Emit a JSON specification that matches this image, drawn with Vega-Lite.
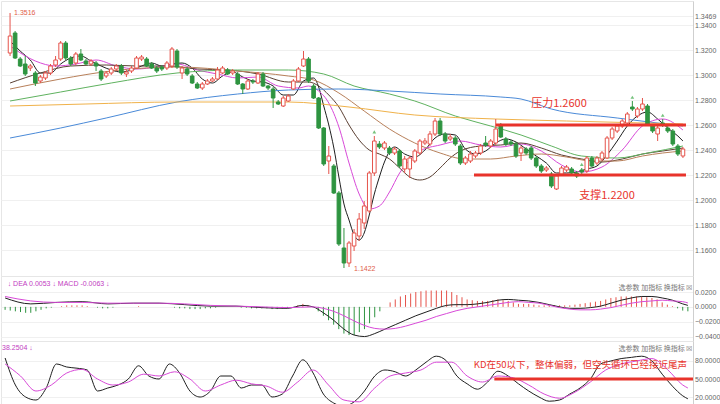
{
"$schema":"https://vega.github.io/schema/vega-lite/v6.json",
"padding":0,"background":"white","spacing":0,"bounds":"flush",
"resolve":{"scale":{"color":"independent"}},
"config":{"view":{"stroke":"#e6e6e6"},"font":"Liberation Sans",
"axis":{"labelFontSize":7,"labelColor":"#666","domainColor":"#cfcfcf","ticks":false,"labelPadding":1.5,"labelOverlap":false,"tickCount":30,"gridColor":"#f0f0f0","title":null}},
"datasets":{
"k":[
{"i":0,"o":1.3176,"h":1.3496,"l":1.3152,"c":1.3312,"m":-0.004},
{"i":1,"o":1.3336,"h":1.3352,"l":1.3128,"c":1.3136,"m":-0.005},
{"i":2,"o":1.3128,"h":1.3144,"l":1.3064,"c":1.3072,"m":-0.006},
{"i":3,"o":1.3088,"h":1.3152,"l":1.2992,"c":1.3008,"m":-0.007},
{"i":4,"o":1.3056,"h":1.3088,"l":1.3032,"c":1.3072,"m":-0.008},
{"i":5,"o":1.3016,"h":1.3032,"l":1.2912,"c":1.2936,"m":-0.008},
{"i":6,"o":1.2952,"h":1.3000,"l":1.2936,"c":1.2984,"m":-0.006},
{"i":7,"o":1.2976,"h":1.3032,"l":1.2960,"c":1.3016,"m":-0.004},
{"i":8,"o":1.3016,"h":1.3088,"l":1.3000,"c":1.3072,"m":-0.002},
{"i":9,"o":1.3080,"h":1.3152,"l":1.3064,"c":1.3120,"m":-0.001},
{"i":10,"o":1.3128,"h":1.3272,"l":1.3112,"c":1.3256,"m":0},
{"i":11,"o":1.3256,"h":1.3272,"l":1.3120,"c":1.3136,"m":0.001},
{"i":12,"o":1.3136,"h":1.3152,"l":1.3072,"c":1.3088,"m":0.002},
{"i":13,"o":1.3096,"h":1.3184,"l":1.3080,"c":1.3168,"m":0.002},
{"i":14,"o":1.3168,"h":1.3208,"l":1.3112,"c":1.3120,"m":0.002},
{"i":15,"o":1.3112,"h":1.3128,"l":1.3080,"c":1.3088,"m":0.002},
{"i":16,"o":1.3088,"h":1.3128,"l":1.3072,"c":1.3112,"m":0.001},
{"i":17,"o":1.3096,"h":1.3112,"l":1.3032,"c":1.3072,"m":0},
{"i":18,"o":1.3032,"h":1.3048,"l":1.2952,"c":1.2968,"m":-0.001},
{"i":19,"o":1.2992,"h":1.3032,"l":1.2976,"c":1.3016,"m":-0.002},
{"i":20,"o":1.3016,"h":1.3064,"l":1.3000,"c":1.3048,"m":-0.002},
{"i":21,"o":1.3048,"h":1.3088,"l":1.3032,"c":1.3072,"m":-0.001},
{"i":22,"o":1.3072,"h":1.3088,"l":1.3000,"c":1.3016,"m":0},
{"i":23,"o":1.3008,"h":1.3040,"l":1.2984,"c":1.3024,"m":0},
{"i":24,"o":1.3032,"h":1.3072,"l":1.3016,"c":1.3056,"m":0},
{"i":25,"o":1.3056,"h":1.3152,"l":1.3048,"c":1.3136,"m":0},
{"i":26,"o":1.3128,"h":1.3160,"l":1.3112,"c":1.3144,"m":0.001},
{"i":27,"o":1.3128,"h":1.3144,"l":1.3064,"c":1.3072,"m":0},
{"i":28,"o":1.3088,"h":1.3104,"l":1.3048,"c":1.3056,"m":0},
{"i":29,"o":1.3056,"h":1.3072,"l":1.3016,"c":1.3032,"m":0},
{"i":30,"o":1.3064,"h":1.3080,"l":1.3032,"c":1.3048,"m":0},
{"i":31,"o":1.3056,"h":1.3112,"l":1.3040,"c":1.3096,"m":0},
{"i":32,"o":1.3072,"h":1.3224,"l":1.3056,"c":1.3208,"m":0},
{"i":33,"o":1.3192,"h":1.3208,"l":1.3048,"c":1.3064,"m":-0.001},
{"i":34,"o":1.3016,"h":1.3072,"l":1.2968,"c":1.3056,"m":-0.002},
{"i":35,"o":1.3048,"h":1.3064,"l":1.2992,"c":1.3008,"m":-0.002},
{"i":36,"o":1.2992,"h":1.3008,"l":1.2928,"c":1.2936,"m":-0.003},
{"i":37,"o":1.2928,"h":1.2944,"l":1.2888,"c":1.2896,"m":-0.003},
{"i":38,"o":1.2896,"h":1.2944,"l":1.2880,"c":1.2928,"m":-0.003},
{"i":39,"o":1.2928,"h":1.2968,"l":1.2920,"c":1.2952,"m":-0.002},
{"i":40,"o":1.2952,"h":1.2984,"l":1.2944,"c":1.2968,"m":-0.002},
{"i":41,"o":1.2968,"h":1.3064,"l":1.2960,"c":1.3040,"m":-0.001},
{"i":42,"o":1.3016,"h":1.3072,"l":1.3008,"c":1.3056,"m":0},
{"i":43,"o":1.3040,"h":1.3056,"l":1.3000,"c":1.3008,"m":0},
{"i":44,"o":1.3016,"h":1.3048,"l":1.3000,"c":1.3032,"m":0},
{"i":45,"o":1.3008,"h":1.3024,"l":1.2920,"c":1.2928,"m":0},
{"i":46,"o":1.2928,"h":1.2936,"l":1.2848,"c":1.2888,"m":-0.001},
{"i":47,"o":1.2888,"h":1.2968,"l":1.2880,"c":1.2952,"m":-0.001},
{"i":48,"o":1.2952,"h":1.2968,"l":1.2928,"c":1.2944,"m":-0.002},
{"i":49,"o":1.2936,"h":1.3024,"l":1.2928,"c":1.3008,"m":-0.002},
{"i":50,"o":1.3008,"h":1.3024,"l":1.2904,"c":1.2912,"m":-0.002},
{"i":51,"o":1.2912,"h":1.2920,"l":1.2880,"c":1.2896,"m":-0.002},
{"i":52,"o":1.2888,"h":1.2904,"l":1.2736,"c":1.2816,"m":-0.003},
{"i":53,"o":1.2784,"h":1.2800,"l":1.2760,"c":1.2768,"m":-0.003},
{"i":54,"o":1.2752,"h":1.2832,"l":1.2744,"c":1.2816,"m":-0.002},
{"i":55,"o":1.2792,"h":1.2848,"l":1.2784,"c":1.2832,"m":-0.002},
{"i":56,"o":1.2888,"h":1.2968,"l":1.2880,"c":1.2952,"m":0},
{"i":57,"o":1.2952,"h":1.3064,"l":1.2944,"c":1.3048,"m":0.002},
{"i":58,"o":1.3072,"h":1.3192,"l":1.3064,"c":1.3128,"m":0.004},
{"i":59,"o":1.3128,"h":1.3144,"l":1.2936,"c":1.2952,"m":0.002},
{"i":60,"o":1.2912,"h":1.2928,"l":1.2808,"c":1.2816,"m":0},
{"i":61,"o":1.2816,"h":1.2824,"l":1.2568,"c":1.2576,"m":-0.006},
{"i":62,"o":1.2576,"h":1.2584,"l":1.2272,"c":1.2288,"m":-0.012},
{"i":63,"o":1.2312,"h":1.2432,"l":1.2208,"c":1.2352,"m":-0.018},
{"i":64,"o":1.2272,"h":1.2288,"l":1.2048,"c":1.2056,"m":-0.024},
{"i":65,"o":1.2056,"h":1.2072,"l":1.1632,"c":1.1648,"m":-0.030},
{"i":66,"o":1.1616,"h":1.1776,"l":1.1456,"c":1.1496,"m":-0.036},
{"i":67,"o":1.1496,"h":1.1672,"l":1.1464,"c":1.1656,"m":-0.038},
{"i":68,"o":1.1632,"h":1.1768,"l":1.1592,"c":1.1736,"m":-0.038},
{"i":69,"o":1.1712,"h":1.1896,"l":1.1672,"c":1.1848,"m":-0.034},
{"i":70,"o":1.1816,"h":1.1992,"l":1.1768,"c":1.1952,"m":-0.030},
{"i":71,"o":1.1912,"h":1.2232,"l":1.1896,"c":1.2216,"m":-0.022},
{"i":72,"o":1.2216,"h":1.2512,"l":1.2192,"c":1.2472,"m":-0.014},
{"i":73,"o":1.2448,"h":1.2472,"l":1.2408,"c":1.2424,"m":-0.006},
{"i":74,"o":1.2416,"h":1.2472,"l":1.2400,"c":1.2456,"m":0},
{"i":75,"o":1.2416,"h":1.2432,"l":1.2360,"c":1.2376,"m":0.006},
{"i":76,"o":1.2376,"h":1.2424,"l":1.2360,"c":1.2408,"m":0.010},
{"i":77,"o":1.2392,"h":1.2408,"l":1.2256,"c":1.2272,"m":0.014},
{"i":78,"o":1.2248,"h":1.2352,"l":1.2216,"c":1.2328,"m":0.016},
{"i":79,"o":1.2248,"h":1.2352,"l":1.2176,"c":1.2336,"m":0.018},
{"i":80,"o":1.2312,"h":1.2408,"l":1.2296,"c":1.2392,"m":0.020},
{"i":81,"o":1.2376,"h":1.2488,"l":1.2360,"c":1.2472,"m":0.021},
{"i":82,"o":1.2456,"h":1.2496,"l":1.2440,"c":1.2472,"m":0.022},
{"i":83,"o":1.2448,"h":1.2552,"l":1.2432,"c":1.2528,"m":0.022},
{"i":84,"o":1.2528,"h":1.2656,"l":1.2512,"c":1.2632,"m":0.022},
{"i":85,"o":1.2632,"h":1.2656,"l":1.2512,"c":1.2528,"m":0.022},
{"i":86,"o":1.2528,"h":1.2544,"l":1.2456,"c":1.2472,"m":0.022},
{"i":87,"o":1.2488,"h":1.2528,"l":1.2472,"c":1.2504,"m":0.020},
{"i":88,"o":1.2496,"h":1.2512,"l":1.2432,"c":1.2448,"m":0.016},
{"i":89,"o":1.2432,"h":1.2448,"l":1.2280,"c":1.2296,"m":0.013},
{"i":90,"o":1.2296,"h":1.2352,"l":1.2280,"c":1.2336,"m":0.010},
{"i":91,"o":1.2312,"h":1.2392,"l":1.2296,"c":1.2368,"m":0.009},
{"i":92,"o":1.2352,"h":1.2392,"l":1.2336,"c":1.2376,"m":0.008},
{"i":93,"o":1.2376,"h":1.2448,"l":1.2360,"c":1.2432,"m":0.008},
{"i":94,"o":1.2456,"h":1.2512,"l":1.2424,"c":1.2440,"m":0.008},
{"i":95,"o":1.2432,"h":1.2488,"l":1.2416,"c":1.2472,"m":0.009},
{"i":96,"o":1.2456,"h":1.2648,"l":1.2440,"c":1.2568,"m":0.010},
{"i":97,"o":1.2600,"h":1.2616,"l":1.2496,"c":1.2504,"m":0.009},
{"i":98,"o":1.2488,"h":1.2504,"l":1.2432,"c":1.2448,"m":0.008},
{"i":99,"o":1.2464,"h":1.2480,"l":1.2432,"c":1.2448,"m":0.006},
{"i":100,"o":1.2448,"h":1.2464,"l":1.2336,"c":1.2352,"m":0.004},
{"i":101,"o":1.2376,"h":1.2432,"l":1.2312,"c":1.2416,"m":0.004},
{"i":102,"o":1.2408,"h":1.2424,"l":1.2360,"c":1.2376,"m":0.004},
{"i":103,"o":1.2416,"h":1.2432,"l":1.2320,"c":1.2336,"m":0.003},
{"i":104,"o":1.2336,"h":1.2352,"l":1.2256,"c":1.2272,"m":0.002},
{"i":105,"o":1.2272,"h":1.2288,"l":1.2216,"c":1.2232,"m":0.002},
{"i":106,"o":1.2240,"h":1.2272,"l":1.2224,"c":1.2256,"m":0.002},
{"i":107,"o":1.2208,"h":1.2224,"l":1.2096,"c":1.2112,"m":0.002},
{"i":108,"o":1.2088,"h":1.2208,"l":1.2080,"c":1.2192,"m":0.002},
{"i":109,"o":1.2208,"h":1.2272,"l":1.2192,"c":1.2256,"m":0.002},
{"i":110,"o":1.2240,"h":1.2280,"l":1.2224,"c":1.2264,"m":0.002},
{"i":111,"o":1.2248,"h":1.2264,"l":1.2200,"c":1.2216,"m":0.003},
{"i":112,"o":1.2216,"h":1.2232,"l":1.2176,"c":1.2192,"m":0.004},
{"i":113,"o":1.2240,"h":1.2256,"l":1.2208,"c":1.2224,"m":0.005},
{"i":114,"o":1.2232,"h":1.2352,"l":1.2216,"c":1.2336,"m":0.006},
{"i":115,"o":1.2336,"h":1.2352,"l":1.2264,"c":1.2272,"m":0.007},
{"i":116,"o":1.2296,"h":1.2352,"l":1.2280,"c":1.2336,"m":0.008},
{"i":117,"o":1.2328,"h":1.2392,"l":1.2312,"c":1.2376,"m":0.010},
{"i":118,"o":1.2336,"h":1.2512,"l":1.2328,"c":1.2496,"m":0.012},
{"i":119,"o":1.2496,"h":1.2584,"l":1.2480,"c":1.2568,"m":0.013},
{"i":120,"o":1.2552,"h":1.2608,"l":1.2536,"c":1.2592,"m":0.014},
{"i":121,"o":1.2592,"h":1.2648,"l":1.2576,"c":1.2632,"m":0.014},
{"i":122,"o":1.2616,"h":1.2704,"l":1.2600,"c":1.2688,"m":0.014},
{"i":123,"o":1.2744,"h":1.2792,"l":1.2712,"c":1.2728,"m":0.014},
{"i":124,"o":1.2672,"h":1.2744,"l":1.2656,"c":1.2728,"m":0.014},
{"i":125,"o":1.2728,"h":1.2816,"l":1.2712,"c":1.2768,"m":0.013},
{"i":126,"o":1.2752,"h":1.2768,"l":1.2592,"c":1.2608,"m":0.012},
{"i":127,"o":1.2592,"h":1.2608,"l":1.2536,"c":1.2552,"m":0.010},
{"i":128,"o":1.2528,"h":1.2592,"l":1.2472,"c":1.2576,"m":0.006},
{"i":129,"o":1.2616,"h":1.2648,"l":1.2584,"c":1.2600,"m":0.003},
{"i":130,"o":1.2576,"h":1.2592,"l":1.2536,"c":1.2552,"m":0.001},
{"i":131,"o":1.2552,"h":1.2568,"l":1.2432,"c":1.2448,"m":-0.002},
{"i":132,"o":1.2432,"h":1.2448,"l":1.2352,"c":1.2368,"m":-0.005},
{"i":133,"o":1.2352,"h":1.2424,"l":1.2336,"c":1.2408,"m":-0.006}
],
"ma":[
{"k":"MA5","i":0,"v":1.3272},{"k":"MA5","i":2,"v":1.3192},{"k":"MA5","i":4,"v":1.3120},{"k":"MA5","i":6,"v":1.3016},{"k":"MA5","i":8,"v":1.3016},{"k":"MA5","i":10,"v":1.3088},{"k":"MA5","i":12,"v":1.3136},{"k":"MA5","i":14,"v":1.3152},{"k":"MA5","i":16,"v":1.3112},{"k":"MA5","i":18,"v":1.3072},{"k":"MA5","i":20,"v":1.3040},{"k":"MA5","i":22,"v":1.3024},{"k":"MA5","i":24,"v":1.3040},{"k":"MA5","i":26,"v":1.3072},{"k":"MA5","i":28,"v":1.3096},{"k":"MA5","i":30,"v":1.3072},{"k":"MA5","i":32,"v":1.3088},{"k":"MA5","i":34,"v":1.3096},{"k":"MA5","i":36,"v":1.3056},{"k":"MA5","i":38,"v":1.2968},{"k":"MA5","i":40,"v":1.2936},{"k":"MA5","i":42,"v":1.2992},{"k":"MA5","i":44,"v":1.3024},{"k":"MA5","i":46,"v":1.2984},{"k":"MA5","i":48,"v":1.2952},{"k":"MA5","i":50,"v":1.2944},{"k":"MA5","i":52,"v":1.2912},{"k":"MA5","i":54,"v":1.2840},{"k":"MA5","i":56,"v":1.2840},{"k":"MA5","i":58,"v":1.2952},{"k":"MA5","i":60,"v":1.2976},{"k":"MA5","i":61,"v":1.2904},{"k":"MA5","i":62,"v":1.2752},{"k":"MA5","i":63,"v":1.2600},{"k":"MA5","i":64,"v":1.2416},{"k":"MA5","i":65,"v":1.2184},{"k":"MA5","i":66,"v":1.1968},{"k":"MA5","i":67,"v":1.1840},{"k":"MA5","i":68,"v":1.1720},{"k":"MA5","i":69,"v":1.1680},{"k":"MA5","i":70,"v":1.1736},{"k":"MA5","i":71,"v":1.1880},{"k":"MA5","i":72,"v":1.2048},{"k":"MA5","i":73,"v":1.2184},{"k":"MA5","i":74,"v":1.2304},{"k":"MA5","i":76,"v":1.2424},{"k":"MA5","i":78,"v":1.2368},{"k":"MA5","i":80,"v":1.2344},{"k":"MA5","i":82,"v":1.2400},{"k":"MA5","i":84,"v":1.2496},{"k":"MA5","i":86,"v":1.2528},{"k":"MA5","i":88,"v":1.2520},{"k":"MA5","i":90,"v":1.2408},{"k":"MA5","i":92,"v":1.2368},{"k":"MA5","i":94,"v":1.2392},{"k":"MA5","i":96,"v":1.2456},{"k":"MA5","i":98,"v":1.2488},{"k":"MA5","i":100,"v":1.2464},{"k":"MA5","i":102,"v":1.2408},{"k":"MA5","i":104,"v":1.2352},{"k":"MA5","i":106,"v":1.2296},{"k":"MA5","i":108,"v":1.2216},{"k":"MA5","i":110,"v":1.2216},{"k":"MA5","i":112,"v":1.2224},{"k":"MA5","i":114,"v":1.2248},{"k":"MA5","i":116,"v":1.2272},{"k":"MA5","i":118,"v":1.2360},{"k":"MA5","i":120,"v":1.2472},{"k":"MA5","i":122,"v":1.2592},{"k":"MA5","i":124,"v":1.2672},{"k":"MA5","i":126,"v":1.2704},{"k":"MA5","i":128,"v":1.2648},{"k":"MA5","i":130,"v":1.2576},{"k":"MA5","i":132,"v":1.2512},{"k":"MA5","i":133,"v":1.2472},
{"k":"MA10","i":0,"v":1.3232},{"k":"MA10","i":5,"v":1.3112},{"k":"MA10","i":9,"v":1.3072},{"k":"MA10","i":13,"v":1.3088},{"k":"MA10","i":17,"v":1.3120},{"k":"MA10","i":21,"v":1.3072},{"k":"MA10","i":25,"v":1.3048},{"k":"MA10","i":29,"v":1.3064},{"k":"MA10","i":33,"v":1.3088},{"k":"MA10","i":37,"v":1.3040},{"k":"MA10","i":41,"v":1.3008},{"k":"MA10","i":45,"v":1.2976},{"k":"MA10","i":49,"v":1.2984},{"k":"MA10","i":53,"v":1.2912},{"k":"MA10","i":57,"v":1.2896},{"k":"MA10","i":59,"v":1.2912},{"k":"MA10","i":61,"v":1.2872},{"k":"MA10","i":63,"v":1.2776},{"k":"MA10","i":65,"v":1.2584},{"k":"MA10","i":67,"v":1.2296},{"k":"MA10","i":69,"v":1.2048},{"k":"MA10","i":71,"v":1.1928},{"k":"MA10","i":73,"v":1.1952},{"k":"MA10","i":75,"v":1.2064},{"k":"MA10","i":77,"v":1.2216},{"k":"MA10","i":79,"v":1.2320},{"k":"MA10","i":81,"v":1.2392},{"k":"MA10","i":85,"v":1.2440},{"k":"MA10","i":89,"v":1.2472},{"k":"MA10","i":93,"v":1.2440},{"k":"MA10","i":97,"v":1.2424},{"k":"MA10","i":101,"v":1.2448},{"k":"MA10","i":105,"v":1.2392},{"k":"MA10","i":109,"v":1.2280},{"k":"MA10","i":113,"v":1.2224},{"k":"MA10","i":117,"v":1.2264},{"k":"MA10","i":121,"v":1.2400},{"k":"MA10","i":125,"v":1.2592},{"k":"MA10","i":129,"v":1.2648},{"k":"MA10","i":133,"v":1.2560},
{"k":"MA20","i":0,"v":1.2936},{"k":"MA20","i":6,"v":1.3016},{"k":"MA20","i":12,"v":1.3072},{"k":"MA20","i":19,"v":1.3080},{"k":"MA20","i":25,"v":1.3072},{"k":"MA20","i":31,"v":1.3072},{"k":"MA20","i":37,"v":1.3048},{"k":"MA20","i":43,"v":1.3040},{"k":"MA20","i":49,"v":1.3008},{"k":"MA20","i":55,"v":1.2944},{"k":"MA20","i":59,"v":1.2944},{"k":"MA20","i":61,"v":1.2912},{"k":"MA20","i":63,"v":1.2840},{"k":"MA20","i":65,"v":1.2744},{"k":"MA20","i":67,"v":1.2600},{"k":"MA20","i":69,"v":1.2480},{"k":"MA20","i":71,"v":1.2400},{"k":"MA20","i":73,"v":1.2368},{"k":"MA20","i":75,"v":1.2328},{"k":"MA20","i":77,"v":1.2256},{"k":"MA20","i":79,"v":1.2184},{"k":"MA20","i":81,"v":1.2160},{"k":"MA20","i":83,"v":1.2184},{"k":"MA20","i":85,"v":1.2256},{"k":"MA20","i":87,"v":1.2336},{"k":"MA20","i":89,"v":1.2392},{"k":"MA20","i":93,"v":1.2432},{"k":"MA20","i":97,"v":1.2440},{"k":"MA20","i":101,"v":1.2456},{"k":"MA20","i":105,"v":1.2416},{"k":"MA20","i":109,"v":1.2360},{"k":"MA20","i":113,"v":1.2328},{"k":"MA20","i":117,"v":1.2304},{"k":"MA20","i":121,"v":1.2328},{"k":"MA20","i":125,"v":1.2368},{"k":"MA20","i":129,"v":1.2392},{"k":"MA20","i":133,"v":1.2416},
{"k":"MA30","i":0,"v":1.2888},{"k":"MA30","i":10,"v":1.2968},{"k":"MA30","i":20,"v":1.3032},{"k":"MA30","i":33,"v":1.3064},{"k":"MA30","i":45,"v":1.3032},{"k":"MA30","i":55,"v":1.2992},{"k":"MA30","i":60,"v":1.2960},{"k":"MA30","i":65,"v":1.2856},{"k":"MA30","i":70,"v":1.2712},{"k":"MA30","i":75,"v":1.2568},{"k":"MA30","i":80,"v":1.2456},{"k":"MA30","i":85,"v":1.2376},{"k":"MA30","i":90,"v":1.2328},{"k":"MA30","i":95,"v":1.2328},{"k":"MA30","i":100,"v":1.2352},{"k":"MA30","i":105,"v":1.2368},{"k":"MA30","i":110,"v":1.2344},{"k":"MA30","i":115,"v":1.2312},{"k":"MA30","i":120,"v":1.2312},{"k":"MA30","i":125,"v":1.2352},{"k":"MA30","i":129,"v":1.2376},{"k":"MA30","i":133,"v":1.2392},
{"k":"MA60","i":0,"v":1.2792},{"k":"MA60","i":10,"v":1.2864},{"k":"MA60","i":20,"v":1.2936},{"k":"MA60","i":33,"v":1.3016},{"k":"MA60","i":45,"v":1.3040},{"k":"MA60","i":55,"v":1.3040},{"k":"MA60","i":62,"v":1.3008},{"k":"MA60","i":68,"v":1.2912},{"k":"MA60","i":75,"v":1.2848},{"k":"MA60","i":80,"v":1.2792},{"k":"MA60","i":88,"v":1.2672},{"k":"MA60","i":95,"v":1.2592},{"k":"MA60","i":101,"v":1.2520},{"k":"MA60","i":107,"v":1.2432},{"k":"MA60","i":113,"v":1.2352},{"k":"MA60","i":120,"v":1.2336},{"k":"MA60","i":126,"v":1.2376},{"k":"MA60","i":133,"v":1.2432},
{"k":"MA120","i":0,"v":1.2496},{"k":"MA120","i":10,"v":1.2576},{"k":"MA120","i":19,"v":1.2656},{"k":"MA120","i":33,"v":1.2784},{"k":"MA120","i":45,"v":1.2848},{"k":"MA120","i":55,"v":1.2880},{"k":"MA120","i":65,"v":1.2888},{"k":"MA120","i":75,"v":1.2872},{"k":"MA120","i":85,"v":1.2848},{"k":"MA120","i":97,"v":1.2824},{"k":"MA120","i":101,"v":1.2808},{"k":"MA120","i":107,"v":1.2728},{"k":"MA120","i":120,"v":1.2656},{"k":"MA120","i":133,"v":1.2592},
{"k":"MA250","i":0,"v":1.2752},{"k":"MA250","i":15,"v":1.2768},{"k":"MA250","i":33,"v":1.2784},{"k":"MA250","i":55,"v":1.2784},{"k":"MA250","i":67,"v":1.2744},{"k":"MA250","i":80,"v":1.2680},{"k":"MA250","i":96,"v":1.2648},{"k":"MA250","i":110,"v":1.2632},{"k":"MA250","i":133,"v":1.2608}
],
"ind":[
{"k":"DIF","i":0,"v":0.012},{"k":"DIF","i":5,"v":0.004},{"k":"DIF","i":10,"v":0.006},{"k":"DIF","i":15,"v":0.007},{"k":"DIF","i":20,"v":0.004},{"k":"DIF","i":25,"v":0.005},{"k":"DIF","i":30,"v":0.005},{"k":"DIF","i":35,"v":0.003},{"k":"DIF","i":40,"v":0.001},{"k":"DIF","i":45,"v":0.001},{"k":"DIF","i":50,"v":-0.001},{"k":"DIF","i":55,"v":-0.002},{"k":"DIF","i":58,"v":0.002},{"k":"DIF","i":60,"v":0.000},{"k":"DIF","i":62,"v":-0.008},{"k":"DIF","i":64,"v":-0.018},{"k":"DIF","i":66,"v":-0.030},{"k":"DIF","i":68,"v":-0.038},{"k":"DIF","i":70,"v":-0.040},{"k":"DIF","i":72,"v":-0.036},{"k":"DIF","i":74,"v":-0.030},{"k":"DIF","i":76,"v":-0.024},{"k":"DIF","i":78,"v":-0.018},{"k":"DIF","i":80,"v":-0.012},{"k":"DIF","i":82,"v":-0.007},{"k":"DIF","i":84,"v":-0.002},{"k":"DIF","i":86,"v":0.002},{"k":"DIF","i":88,"v":0.003},{"k":"DIF","i":90,"v":0.003},{"k":"DIF","i":92,"v":0.004},{"k":"DIF","i":94,"v":0.006},{"k":"DIF","i":96,"v":0.009},{"k":"DIF","i":98,"v":0.010},{"k":"DIF","i":100,"v":0.009},{"k":"DIF","i":102,"v":0.008},{"k":"DIF","i":104,"v":0.006},{"k":"DIF","i":106,"v":0.003},{"k":"DIF","i":108,"v":0.000},{"k":"DIF","i":110,"v":-0.002},{"k":"DIF","i":112,"v":-0.002},{"k":"DIF","i":114,"v":-0.001},{"k":"DIF","i":116,"v":0.001},{"k":"DIF","i":118,"v":0.005},{"k":"DIF","i":120,"v":0.009},{"k":"DIF","i":122,"v":0.012},{"k":"DIF","i":124,"v":0.014},{"k":"DIF","i":126,"v":0.014},{"k":"DIF","i":128,"v":0.012},{"k":"DIF","i":130,"v":0.009},{"k":"DIF","i":132,"v":0.004},{"k":"DIF","i":133,"v":0.002},
{"k":"DEA","i":0,"v":0.014},{"k":"DEA","i":5,"v":0.008},{"k":"DEA","i":10,"v":0.006},{"k":"DEA","i":15,"v":0.006},{"k":"DEA","i":20,"v":0.005},{"k":"DEA","i":25,"v":0.005},{"k":"DEA","i":30,"v":0.005},{"k":"DEA","i":35,"v":0.004},{"k":"DEA","i":40,"v":0.002},{"k":"DEA","i":45,"v":0.001},{"k":"DEA","i":50,"v":0.000},{"k":"DEA","i":55,"v":-0.001},{"k":"DEA","i":60,"v":0.000},{"k":"DEA","i":62,"v":-0.002},{"k":"DEA","i":64,"v":-0.006},{"k":"DEA","i":66,"v":-0.012},{"k":"DEA","i":68,"v":-0.019},{"k":"DEA","i":70,"v":-0.025},{"k":"DEA","i":72,"v":-0.029},{"k":"DEA","i":74,"v":-0.030},{"k":"DEA","i":76,"v":-0.029},{"k":"DEA","i":78,"v":-0.026},{"k":"DEA","i":80,"v":-0.022},{"k":"DEA","i":82,"v":-0.018},{"k":"DEA","i":84,"v":-0.013},{"k":"DEA","i":86,"v":-0.009},{"k":"DEA","i":88,"v":-0.005},{"k":"DEA","i":90,"v":-0.002},{"k":"DEA","i":92,"v":0.000},{"k":"DEA","i":94,"v":0.002},{"k":"DEA","i":96,"v":0.004},{"k":"DEA","i":98,"v":0.006},{"k":"DEA","i":100,"v":0.007},{"k":"DEA","i":102,"v":0.006},{"k":"DEA","i":104,"v":0.005},{"k":"DEA","i":106,"v":0.002},{"k":"DEA","i":108,"v":-0.001},{"k":"DEA","i":110,"v":-0.003},{"k":"DEA","i":112,"v":-0.004},{"k":"DEA","i":114,"v":-0.004},{"k":"DEA","i":116,"v":-0.003},{"k":"DEA","i":118,"v":-0.001},{"k":"DEA","i":120,"v":0.002},{"k":"DEA","i":122,"v":0.005},{"k":"DEA","i":124,"v":0.007},{"k":"DEA","i":126,"v":0.008},{"k":"DEA","i":128,"v":0.009},{"k":"DEA","i":130,"v":0.008},{"k":"DEA","i":132,"v":0.007},{"k":"DEA","i":133,"v":0.0053},
{"k":"K","i":0,"v":85},{"k":"K","i":2,"v":40},{"k":"K","i":4,"v":20},{"k":"K","i":6,"v":15},{"k":"K","i":8,"v":35},{"k":"K","i":10,"v":75},{"k":"K","i":12,"v":70},{"k":"K","i":14,"v":68},{"k":"K","i":16,"v":65},{"k":"K","i":18,"v":30},{"k":"K","i":20,"v":35},{"k":"K","i":22,"v":40},{"k":"K","i":24,"v":50},{"k":"K","i":26,"v":72},{"k":"K","i":28,"v":55},{"k":"K","i":30,"v":50},{"k":"K","i":32,"v":75},{"k":"K","i":34,"v":60},{"k":"K","i":36,"v":30},{"k":"K","i":38,"v":20},{"k":"K","i":40,"v":30},{"k":"K","i":42,"v":55},{"k":"K","i":44,"v":55},{"k":"K","i":46,"v":35},{"k":"K","i":48,"v":40},{"k":"K","i":50,"v":40},{"k":"K","i":52,"v":20},{"k":"K","i":54,"v":25},{"k":"K","i":56,"v":55},{"k":"K","i":58,"v":82},{"k":"K","i":60,"v":60},{"k":"K","i":62,"v":25},{"k":"K","i":64,"v":10},{"k":"K","i":66,"v":5},{"k":"K","i":68,"v":12},{"k":"K","i":70,"v":30},{"k":"K","i":72,"v":55},{"k":"K","i":74,"v":65},{"k":"K","i":76,"v":62},{"k":"K","i":78,"v":55},{"k":"K","i":80,"v":65},{"k":"K","i":82,"v":78},{"k":"K","i":84,"v":88},{"k":"K","i":86,"v":80},{"k":"K","i":88,"v":55},{"k":"K","i":90,"v":42},{"k":"K","i":92,"v":33},{"k":"K","i":94,"v":45},{"k":"K","i":96,"v":63},{"k":"K","i":98,"v":55},{"k":"K","i":100,"v":42},{"k":"K","i":102,"v":30},{"k":"K","i":104,"v":20},{"k":"K","i":106,"v":13},{"k":"K","i":108,"v":15},{"k":"K","i":110,"v":25},{"k":"K","i":112,"v":35},{"k":"K","i":114,"v":50},{"k":"K","i":116,"v":75},{"k":"K","i":118,"v":80},{"k":"K","i":120,"v":84},{"k":"K","i":122,"v":86},{"k":"K","i":124,"v":88},{"k":"K","i":126,"v":80},{"k":"K","i":128,"v":58},{"k":"K","i":130,"v":38},{"k":"K","i":132,"v":22},{"k":"K","i":133,"v":17},
{"k":"D","i":0,"v":75},{"k":"D","i":3,"v":55},{"k":"D","i":6,"v":30},{"k":"D","i":9,"v":40},{"k":"D","i":12,"v":60},{"k":"D","i":15,"v":66},{"k":"D","i":18,"v":50},{"k":"D","i":21,"v":40},{"k":"D","i":24,"v":45},{"k":"D","i":27,"v":58},{"k":"D","i":30,"v":55},{"k":"D","i":33,"v":62},{"k":"D","i":36,"v":50},{"k":"D","i":39,"v":30},{"k":"D","i":42,"v":40},{"k":"D","i":45,"v":48},{"k":"D","i":48,"v":42},{"k":"D","i":51,"v":38},{"k":"D","i":54,"v":28},{"k":"D","i":57,"v":45},{"k":"D","i":60,"v":65},{"k":"D","i":63,"v":40},{"k":"D","i":66,"v":15},{"k":"D","i":69,"v":12},{"k":"D","i":72,"v":35},{"k":"D","i":75,"v":55},{"k":"D","i":78,"v":60},{"k":"D","i":81,"v":65},{"k":"D","i":84,"v":78},{"k":"D","i":87,"v":78},{"k":"D","i":90,"v":55},{"k":"D","i":93,"v":45},{"k":"D","i":96,"v":55},{"k":"D","i":99,"v":52},{"k":"D","i":102,"v":40},{"k":"D","i":105,"v":25},{"k":"D","i":108,"v":18},{"k":"D","i":111,"v":28},{"k":"D","i":114,"v":45},{"k":"D","i":117,"v":65},{"k":"D","i":120,"v":75},{"k":"D","i":123,"v":80},{"k":"D","i":126,"v":84},{"k":"D","i":129,"v":66},{"k":"D","i":132,"v":40},{"k":"D","i":133,"v":35}
]},
"vconcat":[
{"width":692,"height":275,
"layer":[
{"data":{"name":"ma"},"mark":{"type":"line","strokeWidth":1,"interpolate":"monotone"},
"encoding":{"x":{"field":"i","type":"quantitative","scale":{"domain":[-0.8,134],"nice":false},"axis":null},
"y":{"field":"v","type":"quantitative","scale":{"domain":[1.1392,1.3592],"nice":false,"zero":false},
"axis":{"orient":"right","values":[1.16,1.18,1.2,1.22,1.24,1.26,1.28,1.3,1.32,1.34,1.3469],"tickCount":30,"format":".4f","grid":true,"labelOverlap":false}},
"color":{"field":"k","type":"nominal","legend":null,"scale":{"domain":["MA5","MA10","MA20","MA30","MA60","MA120","MA250"],"range":["#1f1f1f","#d849d8","#5b4033","#b8805a","#5fb25f","#4a8ad8","#f0b24a"]}}}},
{"data":{"name":"k"},"mark":{"type":"rule","strokeWidth":1},
"encoding":{"x":{"field":"i","type":"quantitative"},"y":{"field":"l","type":"quantitative"},"y2":{"field":"h"},
"color":{"condition":{"test":"datum.c>datum.o","value":"#e5534b"},"value":"#2e9440"}}},
{"data":{"name":"k"},"mark":{"type":"bar","width":3.6,"strokeWidth":1},
"encoding":{"x":{"field":"i","type":"quantitative"},"y":{"field":"o","type":"quantitative"},"y2":{"field":"c"},
"fill":{"condition":{"test":"datum.c>datum.o","value":"#ffffff"},"value":"#2e9440"},
"stroke":{"condition":{"test":"datum.c>datum.o","value":"#e5534b"},"value":"#2e9440"}}},
{"data":{"values":[{"a":96,"b":133.6,"p":1.26},{"a":91.7,"b":133.6,"p":1.22}]},"mark":{"type":"rule","strokeWidth":3,"color":"#e8332b"},
"encoding":{"x":{"field":"a","type":"quantitative"},"x2":{"field":"b"},"y":{"field":"p","type":"quantitative"}}},
{"data":{"values":[{"i":72,"p":1.2545},{"i":113,"p":1.2285},{"i":123,"p":1.2822},{"i":129,"p":1.2678}]},"mark":{"type":"point","shape":"triangle-up","filled":true,"size":14,"color":"#3aa845"},
"encoding":{"x":{"field":"i","type":"quantitative"},"y":{"field":"p","type":"quantitative"}}},
{"data":{"values":[{"i":103,"p":1.2768,"t":"压力1.2600"},{"i":112.5,"p":1.2032,"t":"支撑1.2200"}]},"mark":{"type":"text","align":"left","baseline":"middle","fontSize":11,"font":"Noto Sans CJK SC","color":"#e8332b"},
"encoding":{"x":{"field":"i","type":"quantitative"},"y":{"field":"p","type":"quantitative"},"text":{"field":"t","type":"nominal"}}},
{"data":{"values":[{"i":68,"p":1.1448,"t":"1.1422"},{"i":0.8,"p":1.3496,"t":"1.3516"}]},"mark":{"type":"text","align":"left","baseline":"middle","fontSize":7,"color":"#e0604a"},
"encoding":{"x":{"field":"i","type":"quantitative"},"y":{"field":"p","type":"quantitative"},"text":{"field":"t","type":"nominal"}}}
]},
{"width":692,"height":65,
"layer":[
{"data":{"name":"k"},"mark":{"type":"rule","strokeWidth":1},
"encoding":{"x":{"field":"i","type":"quantitative","scale":{"domain":[-0.8,134],"nice":false},"axis":null},
"y":{"field":"m","type":"quantitative","scale":{"domain":[-0.046,0.0416],"nice":false,"zero":false},
"axis":{"orient":"right","values":[0.02,0,-0.02,-0.04],"tickCount":30,"format":".4f","grid":true,"labelOverlap":false}},"y2":{"datum":0},
"color":{"condition":{"test":"datum.m>=0","value":"#e5534b"},"value":"#2e9440"}}},
{"data":{"name":"ind"},"transform":[{"filter":"datum.k=='DIF'||datum.k=='DEA'"}],"mark":{"type":"line","strokeWidth":1,"interpolate":"monotone"},
"encoding":{"x":{"field":"i","type":"quantitative"},"y":{"field":"v","type":"quantitative"},"color":{"field":"k","type":"nominal","legend":null,"scale":{"domain":["DIF","DEA"],"range":["#1f1f1f","#d849d8"]}}}},
{"data":{"values":[{"i":0.5,"v":0.0311,"t":"↓ DEA 0.0053  ↓ MACD -0.0063  ↓"}]},"mark":{"type":"text","align":"left","baseline":"middle","fontSize":7,"color":"#c23cc2"},
"encoding":{"x":{"field":"i","type":"quantitative"},"y":{"field":"v","type":"quantitative"},"text":{"field":"t","type":"nominal"}}},
{"data":{"values":[{"i":119.5,"v":0.0259,"t":"选参数  加指标  换指标  ☒"}]},"mark":{"type":"text","align":"left","baseline":"middle","fontSize":7,"font":"Noto Sans CJK SC","color":"#777"},
"encoding":{"x":{"field":"i","type":"quantitative"},"y":{"field":"v","type":"quantitative"},"text":{"field":"t","type":"nominal"}}}
]},
{"width":692,"height":64,
"layer":[
{"data":{"name":"ind"},"transform":[{"filter":"datum.k=='K'||datum.k=='D'"}],"mark":{"type":"line","strokeWidth":1,"interpolate":"monotone"},
"encoding":{"x":{"field":"i","type":"quantitative","scale":{"domain":[-0.8,134],"nice":false},"axis":null},
"y":{"field":"v","type":"quantitative","scale":{"domain":[6.7,113.3],"nice":false,"zero":false},
"axis":{"orient":"right","values":[80,50,20],"tickCount":30,"format":".4f","grid":true,"labelOverlap":false}},
"color":{"field":"k","type":"nominal","legend":null,"scale":{"domain":["K","D"],"range":["#1f1f1f","#d849d8"]}}}},
{"data":{"values":[{"a":95.3,"b":134,"v":50}]},"mark":{"type":"rule","strokeWidth":3,"color":"#e8332b"},
"encoding":{"x":{"field":"a","type":"quantitative"},"x2":{"field":"b"},"y":{"field":"v","type":"quantitative"}}},
{"data":{"values":[{"i":91.3,"v":73.3,"t":"KD在50以下，整体偏弱，但空头循环已经接近尾声"}]},"mark":{"type":"text","align":"left","baseline":"middle","fontSize":9.5,"font":"Noto Sans CJK SC","color":"#e8332b"},
"encoding":{"x":{"field":"i","type":"quantitative"},"y":{"field":"v","type":"quantitative"},"text":{"field":"t","type":"nominal"}}},
{"data":{"values":[{"i":-0.6,"v":101.6,"t":"38.2504 ↓"}]},"mark":{"type":"text","align":"left","baseline":"middle","fontSize":7,"color":"#c23cc2"},
"encoding":{"x":{"field":"i","type":"quantitative"},"y":{"field":"v","type":"quantitative"},"text":{"field":"t","type":"nominal"}}},
{"data":{"values":[{"i":119.5,"v":100,"t":"选参数  加指标  换指标  ☒"}]},"mark":{"type":"text","align":"left","baseline":"middle","fontSize":7,"font":"Noto Sans CJK SC","color":"#777"},
"encoding":{"x":{"field":"i","type":"quantitative"},"y":{"field":"v","type":"quantitative"},"text":{"field":"t","type":"nominal"}}}
]}
]}
